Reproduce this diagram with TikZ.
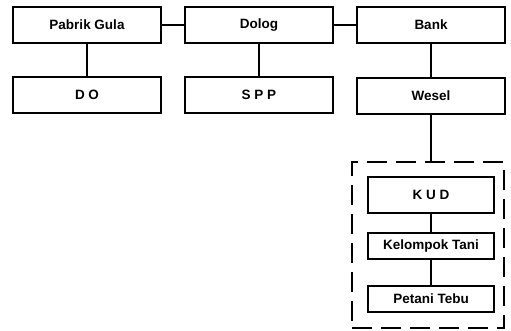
\documentclass[tikz,border=0pt]{standalone}
\usepackage{fontspec}
\setmainfont{Liberation Sans}
\usetikzlibrary{positioning,fit}

\begin{document}
\begin{tikzpicture}[x=1pt, y=-1pt,
    every node/.style={font=\fontsize{13.5}{15}\selectfont\bfseries, align=center},
    unit/.style={rectangle, draw, line width=2pt,
                 minimum width=148pt, minimum height=36pt, inner sep=2pt},
    member/.style={rectangle, draw, line width=2pt,
                   minimum width=126pt, minimum height=26pt, inner sep=2pt},
    link/.style={line width=2pt},
    group/.style={rectangle, draw, line width=1.8pt,
                  dash pattern=on 20pt off 9pt, inner sep=0pt},
  ]
    \useasboundingbox (0,0) rectangle (511,330);

    % top row
    \node[unit]                        (pg)    at (87,25) {Pabrik Gula};
    \node[unit, right=22pt of pg]      (dolog) {Dolog};
    \node[unit, right=22pt of dolog]   (bank)  {Bank};

    \draw[link] (pg)    -- (dolog);
    \draw[link] (dolog) -- (bank);

    % documents
    \node[unit, below=32pt of pg]      (do)    {D O};
    \node[unit, below=32pt of dolog]   (spp)   {S P P};
    \node[unit, below=33pt of bank]    (wesel) {Wesel};

    \draw[link] (pg)    -- (do);
    \draw[link] (dolog) -- (spp);
    \draw[link] (bank)  -- (wesel);

    % farmers' side
    \node[unit, minimum width=126pt]   (kud)   at (431,195) {K U D};
    \node[member, below=18pt of kud]   (kt)    {Kelompok Tani};
    \node[member, below=25pt of kt]    (tebu)  {Petani Tebu};

    \draw[link] (kud) -- (kt);
    \draw[link] (kt)  -- (tebu);

    \coordinate (g1) at (352,162);
    \coordinate (g2) at (504,328);
    \node[group, fit=(g1)(g2)]         (frame) {};
    \draw[link] (wesel.south) -- (wesel.south |- frame.north);
  \end{tikzpicture}
\end{document}
